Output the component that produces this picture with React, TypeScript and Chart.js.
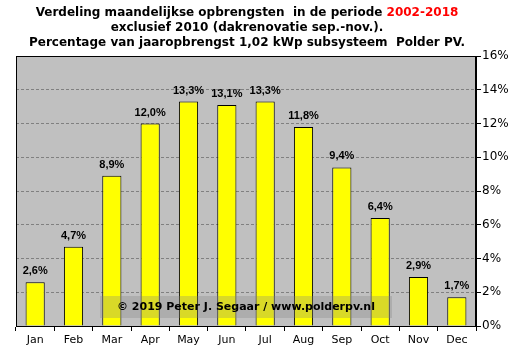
import React, { useEffect, useRef } from "react";
import { Chart, registerables } from "chart.js";
Chart.register(...registerables);

const months = ["Jan", "Feb", "Mar", "Apr", "May", "Jun", "Jul", "Aug", "Sep", "Oct", "Nov", "Dec"];
const shares = [2.6, 4.7, 8.9, 12.0, 13.3, 13.1, 13.3, 11.8, 9.4, 6.4, 2.9, 1.7];
const titleLine1a = "Verdeling maandelijkse opbrengsten  in de periode ";
const titleLine1b = "2002-2018";
const titleLine2 = "exclusief 2010 (dakrenovatie sep.-nov.).";
const titleLine3 = "Percentage van jaaropbrengst 1,02 kWp subsysteem  Polder PV.";
const watermark = "\u00a9 2019 Peter J. Segaar / www.polderpv.nl";

const FONT = "'DejaVu Sans', Verdana, sans-serif";
const LABEL_FONT = "'Liberation Sans', Arial, sans-serif";

const decorPlugin = {
  id: "decor",
  beforeDraw(chart: any) {
    const { ctx, chartArea: a, width, height } = chart;
    ctx.save();
    ctx.fillStyle = "#ffffff";
    ctx.fillRect(0, 0, width, height);
    ctx.fillStyle = "#c0c0c0";
    ctx.fillRect(a.left, a.top, a.right - a.left, a.bottom - a.top);
    ctx.restore();
  },
  afterDatasetsDraw(chart: any) {
    const { ctx, chartArea: a } = chart;
    ctx.save();
    // border
    ctx.strokeStyle = "#000";
    ctx.lineWidth = 1;
    ctx.strokeRect(a.left + 0.5, a.top + 0.5, a.right - a.left - 1, a.bottom - a.top);
    // value labels
    const meta = chart.getDatasetMeta(0);
    ctx.fillStyle = "#000";
    ctx.font = `bold 11px ${LABEL_FONT}`;
    ctx.textAlign = "center";
    ctx.textBaseline = "alphabetic";
    meta.data.forEach((bar: any, i: number) => {
      const label = shares[i].toFixed(1).replace(".", ",") + "%";
      ctx.fillText(label, bar.x, bar.y - 8);
    });
    // watermark
    ctx.fillStyle = "rgba(128,128,128,0.3)";
    ctx.fillRect(100, 296, 292, 22);
    ctx.fillStyle = "#000";
    ctx.font = `bold 11px ${FONT}`;
    ctx.textBaseline = "middle";
    ctx.fillText(watermark, 246, 307.5);
    // title
    ctx.font = `bold 12px ${FONT}`;
    ctx.textBaseline = "middle";
    const w1 = ctx.measureText(titleLine1a).width;
    const w2 = ctx.measureText(titleLine1b).width;
    const cx = 247;
    const start = cx - (w1 + w2) / 2;
    ctx.textAlign = "left";
    ctx.fillStyle = "#000";
    ctx.fillText(titleLine1a, start, 13);
    ctx.fillStyle = "#ff0000";
    ctx.fillText(titleLine1b, start + w1, 13);
    ctx.textAlign = "center";
    ctx.fillStyle = "#000";
    ctx.fillText(titleLine2, cx, 28);
    ctx.fillText(titleLine3, cx, 43);
    ctx.restore();
  },
};

export default function App() {
  const ref = useRef<HTMLCanvasElement>(null);
  useEffect(() => {
    document.body.style.margin = "0";
    const chart = new Chart(ref.current!, {
      type: "bar",
      data: {
        labels: months,
        datasets: [
          {
            data: shares,
            backgroundColor: "#ffff00",
            borderColor: "#000000",
            borderWidth: 1,
            barPercentage: 0.5,
            categoryPercentage: 1,
          },
        ],
      },
      options: {
        animation: false,
        responsive: false,
        layout: { padding: { left: 16, top: 56, right: 0, bottom: 0 } },
        plugins: { legend: { display: false }, tooltip: { enabled: false }, title: { display: false } },
        scales: {
          x: {
            grid: { offset: true, drawOnChartArea: false, tickLength: 5, tickColor: "#000" },
            border: { color: "#000" },
            ticks: { color: "#000", font: { family: FONT, size: 11 }, padding: 3, maxRotation: 0 },
            afterFit: (s: any) => { s.height = 25; },
          },
          y: {
            position: "right",
            min: 0,
            max: 16,
            grid: { color: "#808080", tickLength: 5, tickColor: "#000", tickBorderDash: [] },
            border: { color: "#000", dash: [3, 2] },
            ticks: {
              stepSize: 2,
              color: "#000",
              font: { family: FONT, size: 12 },
              padding: 1,
              callback: (v: any) => v + "%",
            },
            afterFit: (s: any) => { s.width = 45; },
          },
        },
      },
      plugins: [decorPlugin],
    });
    return () => chart.destroy();
  }, []);
  return (
    <div style={{ width: 521, height: 351 }}>
      <canvas ref={ref} width={521} height={351} style={{ display: "block" }} />
    </div>
  );
}
